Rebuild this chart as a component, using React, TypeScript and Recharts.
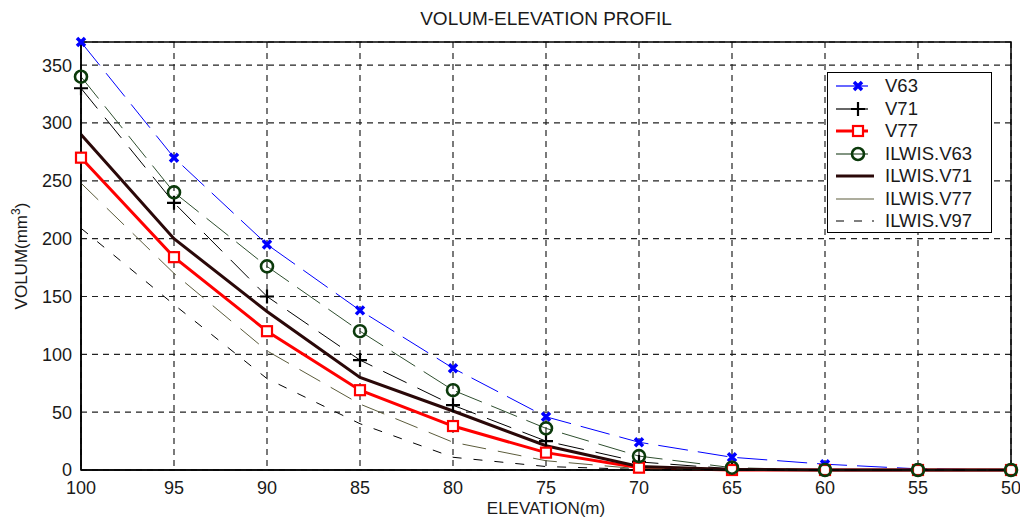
import React from "react";
import { LineChart, Line, XAxis, YAxis, CartesianGrid, ReferenceArea } from "recharts";

const ELEVATION = [100, 95, 90, 85, 80, 75, 70, 65, 60, 55, 50];
const V63 = [370, 270, 195, 138, 88, 46, 24, 11, 5, 1, 0];
const V71 = [330, 231, 150, 95, 56, 25, 7, 1, 0, 0, 0];
const V77 = [270, 184, 120, 69, 38, 15, 2, 0, 0, 0, 0];
const ILWIS_V63 = [340, 240, 176, 120, 69, 36, 12, 2, 0, 0, 0];
const ILWIS_V71 = [290, 200, 137, 80, 51, 21, 3, 0.5, 0, 0, 0];
const ILWIS_V77 = [248, 170, 103, 57, 24, 8, 1, 0, 0, 0, 0];
const ILWIS_V97 = [209, 143, 79, 40, 11, 3, 0.5, 0, 0, 0, 0];
const Y_TICKS = [0, 50, 100, 150, 200, 250, 300, 350];

const FONT = "'Liberation Sans', Arial, sans-serif";

const data = ELEVATION.map((e, i) => ({
  elev: e,
  v63: V63[i],
  v71: V71[i],
  v77: V77[i],
  iv63: ILWIS_V63[i],
  iv71: ILWIS_V71[i],
  iv77: ILWIS_V77[i],
  iv97: ILWIS_V97[i],
}));

type Mark = "x" | "plus" | "square" | "circle" | null;

const Marker = ({ kind, cx, cy }: { kind: Mark; cx: number; cy: number }) => {
  if (kind === "x")
    return (
      <path d={`M${cx - 4},${cy - 4}L${cx + 4},${cy + 4}M${cx - 4},${cy + 4}L${cx + 4},${cy - 4}`} stroke="#0000ff" strokeWidth={3.5} />
    );
  if (kind === "plus")
    return <path d={`M${cx - 7},${cy}L${cx + 7},${cy}M${cx},${cy - 7}L${cx},${cy + 7}`} stroke="#000" strokeWidth={2.2} />;
  if (kind === "square")
    return <rect x={cx - 5} y={cy - 5} width={10} height={10} stroke="#ff0000" strokeWidth={2.2} fill="#fff" />;
  if (kind === "circle")
    return <circle cx={cx} cy={cy} r={6} stroke="#0b3a0b" strokeWidth={2.6} fill="none" />;
  return null;
};

const SERIES: { key: string; name: string; color: string; width: number; dash?: string; mark: Mark }[] = [
  { key: "v63", name: "V63", color: "#0000ff", width: 1, dash: "30 10", mark: "x" },
  { key: "v71", name: "V71", color: "#000000", width: 1, dash: "26 12", mark: "plus" },
  { key: "v77", name: "V77", color: "#ff0000", width: 3, mark: "square" },
  { key: "iv63", name: "ILWIS.V63", color: "#2f4f2f", width: 1, dash: "28 10", mark: "circle" },
  { key: "iv71", name: "ILWIS.V71", color: "#2a0808", width: 3, mark: null },
  { key: "iv77", name: "ILWIS.V77", color: "#5c5c3c", width: 1, dash: "24 12", mark: null },
  { key: "iv97", name: "ILWIS.V97", color: "#000000", width: 1, dash: "9 12", mark: null },
];

const LEGEND_DASH: Record<string, string | undefined> = { iv97: "8 10" };

export default function App() {
  const tick = { fill: "#1a1a1a", fontSize: 18, fontFamily: FONT };
  return (
    <div style={{ position: "absolute", left: 0, top: 0, width: 1020, height: 519, background: "#fff", fontFamily: FONT }}>
      <div style={{ position: "absolute", left: 346, width: 400, top: 8, textAlign: "center", fontSize: 19, color: "#1a1a1a" }}>
        VOLUM-ELEVATION PROFIL
      </div>
      <LineChart width={1020} height={519} data={data} margin={{ top: 42, right: 9, bottom: 9, left: 21 }}>
        <CartesianGrid stroke="#222" strokeDasharray="6 5" strokeWidth={1.2} />
        <XAxis
          dataKey="elev"
          type="number"
          domain={[50, 100]}
          reversed
          ticks={ELEVATION}
          interval={0}
          height={40}
          tickSize={0}
          tickMargin={11}
          tick={tick}
          axisLine={{ stroke: "#000", strokeWidth: 1.5 }}
          label={{
            content: () => (
              <text x={546} y={514} textAnchor="middle" fontSize={17} fontFamily={FONT} fill="#1a1a1a">
                ELEVATION(m)
              </text>
            ),
          }}
        />
        <YAxis
          type="number"
          domain={[0, 370]}
          ticks={Y_TICKS}
          width={60}
          tickSize={0}
          tickMargin={9}
          tick={tick}
          axisLine={{ stroke: "#000", strokeWidth: 1.5 }}
          label={{
            content: () => (
              <text transform="translate(27,256) rotate(-90)" textAnchor="middle" fontSize={17} fontFamily={FONT} fill="#1a1a1a">
                VOLUM(mm<tspan dy={-7} fontSize={12}>3</tspan>
                <tspan dy={7}>)</tspan>
              </text>
            ),
          }}
        />
        <ReferenceArea x1={100} x2={50} y1={0} y2={370} fill="none" fillOpacity={0} stroke="#000" strokeWidth={1.5} />
        {SERIES.map((s) => (
          <Line
            key={s.key}
            dataKey={s.key}
            name={s.name}
            type="linear"
            stroke={s.color}
            strokeWidth={s.width}
            strokeDasharray={s.dash}
            isAnimationActive={false}
            activeDot={false}
            dot={
              s.mark
                ? (p: any) => <Marker key={`${s.key}-${p.index}`} kind={s.mark} cx={p.cx} cy={p.cy} />
                : false
            }
          />
        ))}
      </LineChart>
      <div
        style={{
          position: "absolute",
          left: 827,
          top: 72,
          width: 165,
          height: 161,
          border: "1px solid #000",
          background: "#fff",
          boxSizing: "border-box",
        }}
      >
        {SERIES.map((s, i) => (
          <div key={s.key} style={{ position: "absolute", left: 0, top: 2 + i * 22.5, height: 22, width: 164 }}>
            <svg width={50} height={22} style={{ position: "absolute", left: 6, top: 0 }}>
              <line
                x1={2}
                x2={s.mark ? 34 : 40}
                y1={11}
                y2={11}
                stroke={s.color}
                strokeWidth={s.width === 3 ? 3 : 1.2}
                strokeDasharray={LEGEND_DASH[s.key]}
              />
              <Marker kind={s.mark} cx={24} cy={11} />
            </svg>
            <span style={{ position: "absolute", left: 57, top: 0, fontSize: 18.5, color: "#1a1a1a", whiteSpace: "nowrap" }}>
              {s.name}
            </span>
          </div>
        ))}
      </div>
    </div>
  );
}
